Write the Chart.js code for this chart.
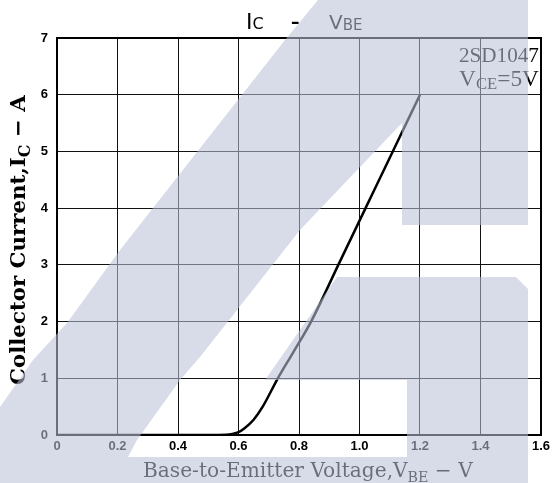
<!DOCTYPE html>
<html>
<head>
<meta charset="utf-8">
<script src="https://cdn.jsdelivr.net/npm/chart.js@4.4.0/dist/chart.umd.min.js"></script>
<style>
  html, body { margin: 0; padding: 0; background: #fff; }
</style>
</head>
<body>
<canvas id="chart" width="556" height="483"></canvas>
<script>
// data (V_BE in volts, I_C in amps)
const vbe = [0, 0.5, 0.56, 0.58, 0.6, 0.62, 0.65, 0.68, 0.73, 0.78, 0.84, 0.93, 1.02, 1.11, 1.2];
const ic = [0, 0, 0.005, 0.02, 0.05, 0.12, 0.27, 0.5, 1.0, 1.45, 2.0, 3.0, 4.0, 5.0, 6.0];

const xTickLabels = ['0', '0.2', '0.4', '0.6', '0.8', '1.0', '1.2', '1.4', '1.6'];
const yTickLabels = ['0', '1', '2', '3', '4', '5', '6', '7'];

const serif = '"DejaVu Serif"';

// text with subscripts; sizes are scaled so the whole run fits the wanted width
function drawRich(ctx, parts, x, y, align, width) {
  const font = (p, k) => (p.b ? 'bold ' : '') + (p.s * k) + 'px ' + p.fam;
  let total = 0;
  parts.forEach(p => { ctx.font = font(p, 1); total += ctx.measureText(p.t).width; });
  const k = width ? width / total : 1;
  total *= k;
  let cx = align === 'center' ? x - total / 2 : align === 'right' ? x - total : x;
  ctx.textAlign = 'left';
  parts.forEach(p => {
    ctx.font = font(p, k);
    ctx.fillText(p.t, cx, y + (p.dy || 0) * k);
    cx += ctx.measureText(p.t).width;
  });
}

const decorations = {
  id: 'decorations',
  afterDraw(chart) {
    const ctx = chart.ctx;
    const a = chart.chartArea;
    ctx.save();

    // frame
    ctx.strokeStyle = '#000';
    ctx.lineWidth = 2;
    ctx.strokeRect(a.left, a.top, a.right - a.left, a.bottom - a.top);

    ctx.fillStyle = '#000';
    ctx.textBaseline = 'alphabetic';

    // title, three pieces spread out like the scan
    const tf = '"DejaVu Sans"';
    drawRich(ctx, [
      { t: 'I', s: 22, fam: tf },
      { t: 'C', s: 16, fam: tf }
    ], 246, 29, 'left');
    drawRich(ctx, [{ t: '–', s: 17, fam: tf, b: true }], 291, 28, 'left');
    drawRich(ctx, [
      { t: 'V', s: 20, fam: tf },
      { t: 'BE', s: 15, fam: tf, dy: 1 }
    ], 329, 29, 'left');

    // device note
    const nf = '"Liberation Serif"';
    drawRich(ctx, [{ t: '2SD1047', s: 21, fam: nf }], 539, 62, 'right', 80);
    drawRich(ctx, [
      { t: 'V', s: 21, fam: nf },
      { t: 'CE', s: 15, fam: nf, dy: 3 },
      { t: '=5V', s: 21, fam: nf }
    ], 539, 86, 'right', 80);

    // x axis title
    drawRich(ctx, [
      { t: 'Base-to-Emitter Voltage,V', s: 17, fam: serif },
      { t: 'BE', s: 12, fam: serif, dy: 4 },
      { t: ' − V', s: 17, fam: serif }
    ], 143, 477, 'left', 330);

    // y axis title
    ctx.translate(25, 240);
    ctx.rotate(-Math.PI / 2);
    drawRich(ctx, [
      { t: 'Collector Current,I', s: 16, fam: serif, b: true },
      { t: 'C', s: 12, fam: serif, b: true, dy: 4 },
      { t: ' − A', s: 16, fam: serif, b: true }
    ], 0, 0, 'center', 290);
    ctx.setTransform(1, 0, 0, 1, 0, 0);

    // light watermark laid over the scan
    ctx.fillStyle = 'rgba(186,194,216,0.57)';
    ctx.beginPath();
    const shapes = [
      [[0, 407], [33, 360], [67, 323], [120, 250], [285, 40], [318, 0], [528, 0], [528, 225],
       [402, 225], [402, 123], [300, 230], [200, 357], [180, 380], [137, 440], [128, 457], [0, 457]],
      [[0, 457], [528, 457], [528, 483], [0, 483]],
      [[337, 277], [516, 277], [528, 289], [528, 457], [407, 457], [407, 380], [265, 380]]
    ];
    shapes.forEach(s => {
      ctx.moveTo(s[0][0], s[0][1]);
      s.slice(1).forEach(p => ctx.lineTo(p[0], p[1]));
      ctx.closePath();
    });
    ctx.fill();
    ctx.restore();
  }
};

new Chart(document.getElementById('chart'), {
  type: 'scatter',
  data: {
    datasets: [{
      data: vbe.map((v, i) => ({ x: v, y: ic[i] })),
      showLine: true,
      borderColor: '#000',
      borderWidth: 2.5,
      pointRadius: 0,
      cubicInterpolationMode: 'monotone',
      fill: false
    }]
  },
  options: {
    responsive: false,
    animation: false,
    devicePixelRatio: 1,
    layout: { padding: { left: 0, right: 15, top: 38, bottom: 0 } },
    plugins: { legend: { display: false }, tooltip: { enabled: false } },
    scales: {
      x: {
        type: 'linear',
        min: 0,
        max: 1.6,
        ticks: {
          stepSize: 0.2,
          padding: 4,
          color: '#000',
          font: { family: 'Liberation Sans', size: 13, weight: 'bold' },
          callback: (v, i) => xTickLabels[i]
        },
        grid: { color: '#111', lineWidth: 1, drawTicks: false },
        border: { display: true, color: '#000', width: 2 },
        afterFit: s => { s.height = 48; }
      },
      y: {
        min: 0,
        max: 7,
        ticks: {
          stepSize: 1,
          padding: 9,
          color: '#000',
          font: { family: 'Liberation Sans', size: 13, weight: 'bold' },
          callback: (v, i) => yTickLabels[i]
        },
        grid: { color: '#111', lineWidth: 1, drawTicks: false },
        border: { display: true, color: '#000', width: 2 },
        afterFit: s => { s.width = 57; }
      }
    }
  },
  plugins: [decorations]
});
</script>
</body>
</html>
